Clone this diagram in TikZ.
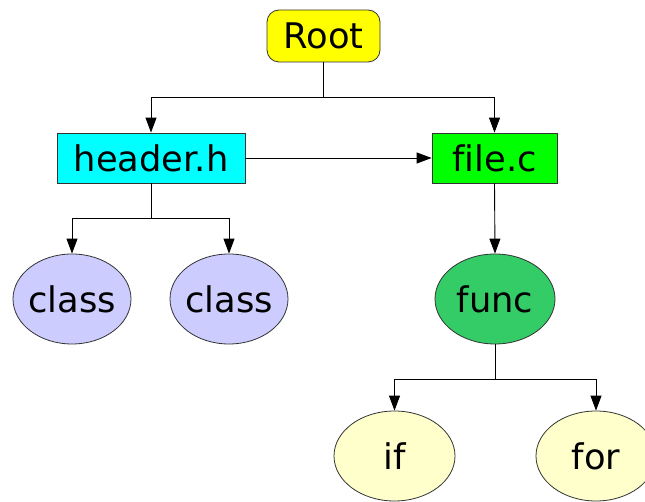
\documentclass[tikz,border=0pt]{standalone}
\usepackage{fontspec}
\setmainfont[Ligatures={NoCommon}]{DejaVu Sans}
\usetikzlibrary{shapes.geometric,arrows.meta}
\definecolor{lav}{HTML}{CCCCFF}
\definecolor{funcg}{HTML}{33CC66}
\definecolor{lyel}{HTML}{FFFFCC}
\definecolor{ryel}{HTML}{FFFF00}
\definecolor{rcyan}{HTML}{00FFFF}
\definecolor{rgreen}{HTML}{00FF00}
\newcommand{\ztext}[1]{\makebox[0pt][c]{#1}}
\begin{document}
\begin{tikzpicture}[x=1pt,y=-1pt,
  every node/.style={font=\fontsize{35.3}{42}\selectfont, text=black, draw=black!80, line width=0.8pt, inner sep=0pt},
  boxnode/.style={rectangle},
  ellnode/.style={ellipse, minimum width=118pt, minimum height=90pt},
  conn/.style={draw=black, line width=0.9pt},
  arr/.style={conn, -{Triangle[length=15pt,width=11pt]}}]
\clip (0,0) rectangle (645,502);
\fill[white] (0,0) rectangle (645,502);
\node[boxnode, rounded corners=12pt, fill=ryel, minimum width=113pt, minimum height=52pt] (root) at (323.5,36) {Root};
\node[boxnode, fill=rcyan, minimum width=188pt, minimum height=50pt] (hdr) at (151,158) {\ztext{header.h}};
\node[boxnode, fill=rgreen, minimum width=125pt, minimum height=50pt] (file) at (494.5,158) {file.c};
\node[ellnode, fill=lav] (c1) at (72,299) {\ztext{class}};
\node[ellnode, fill=lav] (c2) at (229,299) {\ztext{class}};
\node[ellnode, fill=funcg, minimum width=120pt] (func) at (495,299) {\ztext{func}};
\node[ellnode, fill=lyel, minimum width=121pt] (if) at (394.5,456) {\ztext{if}};
\node[ellnode, fill=lyel, minimum width=120pt] (for) at (596,456) {\ztext{for}};
\coordinate (j1) at (323.5,97);
\coordinate (j2) at (151,218);
\coordinate (j3) at (495,379);
\draw[conn] (root.south) -- (j1);
\draw[arr] (j1) -| (hdr.north);
\draw[arr] (j1) -| (file.north);
\draw[arr] (hdr.east) -- (file.west);
\draw[conn] (hdr.south) -- (j2);
\draw[arr] (j2) -| (c1.north);
\draw[arr] (j2) -| (c2.north);
\draw[arr] (file.south) -- (func.north);
\draw[conn] (func.south) -- (j3);
\draw[arr] (j3) -| (if.north);
\draw[arr] (j3) -| (for.north);
\end{tikzpicture}
\end{document}
